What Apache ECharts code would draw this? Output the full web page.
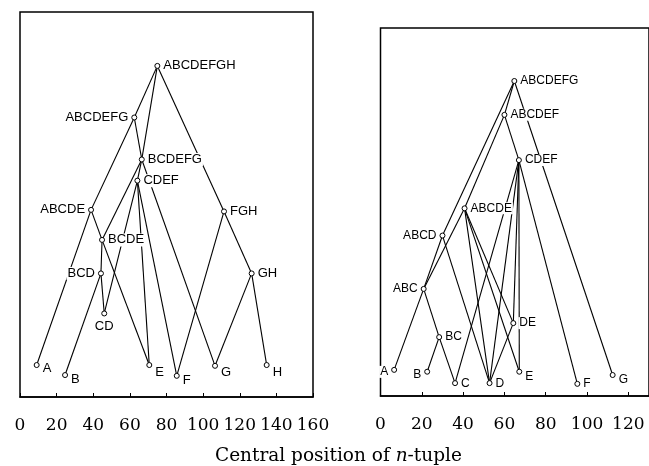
<!DOCTYPE html>
<html><head><meta charset="utf-8">
<script src="https://cdn.jsdelivr.net/npm/echarts@6/dist/echarts.min.js"></script>
<style>html,body{margin:0;padding:0;background:#fff}#c{width:649px;height:466px}</style>
</head><body><div id="c"></div>
<script>
// ---- Left panel (8 elements A..H) ----
const leftNodes  = ['ABCDEFGH','ABCDEFG','BCDEFG','CDEF','ABCDE','BCDE','BCD','CD','FGH','GH','A','B','E','F','G','H'];
const leftPos    = [75.0, 62.4, 66.5, 64.1, 38.8, 44.8, 44.2, 46.0, 111.4, 126.5, 9.1, 24.6, 70.6, 85.6, 106.5, 134.7];
const leftLevel  = [86.0, 72.6, 61.7, 56.2, 48.6, 40.8, 32.1, 21.7, 48.2, 32.1, 8.3, 5.7, 8.3, 5.5, 8.1, 8.3];
const leftLinks  = [
  ['ABCDEFGH','ABCDEFG'],['ABCDEFGH','BCDEFG'],['ABCDEFGH','FGH'],
  ['ABCDEFG','ABCDE'],['ABCDEFG','BCDEFG'],
  ['BCDEFG','CDEF'],['BCDEFG','BCDE'],['BCDEFG','G'],
  ['CDEF','CD'],['CDEF','E'],['CDEF','F'],
  ['ABCDE','A'],['ABCDE','BCDE'],['BCDE','E'],['BCDE','BCD'],
  ['BCD','B'],['BCD','CD'],
  ['FGH','F'],['FGH','GH'],['GH','G'],['GH','H']
];
const leftTicks  = [0, 20, 40, 60, 80, 100, 120, 140, 160];

// ---- Right panel (7 elements A..G) ----
const rightNodes = ['ABCDEFG','ABCDEF','CDEF','ABCDE','ABCD','ABC','BC','DE','A','B','C','D','E','F','G'];
const rightPos   = [64.8, 60.0, 67.0, 40.7, 30.0, 20.9, 28.4, 64.3, 6.6, 22.6, 36.1, 52.8, 67.2, 95.3, 112.4];
const rightLevel = [85.6, 76.4, 64.1, 51.0, 43.6, 29.1, 16.0, 19.8, 7.1, 6.6, 3.5, 3.5, 6.6, 3.3, 5.7];
const rightLinks = [
  ['ABCDEFG','ABCDEF'],['ABCDEFG','ABCD'],['ABCDEFG','G'],
  ['ABCDEF','ABCDE'],['ABCDEF','CDEF'],
  ['CDEF','F'],['CDEF','C'],['CDEF','D'],['CDEF','DE'],['CDEF','E'],
  ['ABCDE','ABC'],['ABCDE','D'],['ABCDE','DE'],['ABCDE','E'],
  ['ABCD','ABC'],['ABCD','D'],
  ['ABC','A'],['ABC','BC'],['BC','B'],['BC','C'],['DE','D']
];
const rightTicks = [0, 20, 40, 60, 80, 100, 120];
const rightAxisMax = 130;

// ---- label placement (style only) ----
const leftLabelPlace = {
  ABCDEFGH:['right',0], ABCDEFG:['left',0], BCDEFG:['right',0], CDEF:['right',0],
  ABCDE:['left',0], BCDE:['right',0], BCD:['left',0], CD:['bottom',0],
  FGH:['right',0], GH:['right',0], A:['right',3], B:['right',4], E:['right',7],
  F:['right',5], G:['right',7], H:['right',7]
};
const rightLabelPlace = {
  ABCDEFG:['right',0], ABCDEF:['right',0], CDEF:['right',0], ABCDE:['right',0],
  ABCD:['left',0], ABC:['left',0], BC:['right',0], DE:['right',0],
  A:['left',2], B:['left',3], C:['right',1], D:['right',1], E:['right',5], F:['right',0], G:['right',5]
};

function buildNodes(names, xs, ys, place, fs) {
  return names.map((n, i) => ({
    name: n,
    value: [xs[i], ys[i]],
    label: {
      position: place[n][0],
      offset: [0, place[n][1]],
      distance: place[n][0] === 'bottom' ? 3 : 2,
      fontSize: fs
    }
  }));
}
function buildLinks(links) {
  return links.map(l => ({ source: l[0], target: l[1] }));
}

const serif = 'DejaVu Serif';
function xAxisCfg(gridIndex, ticks, max, hideMax) {
  return {
    type: 'value', gridIndex: gridIndex,
    min: ticks[0], max: max, interval: ticks[1] - ticks[0],
    axisLine: { show: true, lineStyle: { color: '#000', width: 1.5 } },
    axisTick: { show: true, inside: true, length: 4, lineStyle: { color: '#000', width: 1 } },
    splitLine: { show: false },
    axisLabel: {
      show: true, margin: 20, color: '#000', fontFamily: serif, fontSize: 17,
      showMaxLabel: !hideMax,
      formatter: v => (ticks.indexOf(v) >= 0 ? String(v) : '')
    }
  };
}
function yAxisCfg(gridIndex) {
  return { type: 'value', gridIndex: gridIndex, min: 0, max: 100, show: false };
}
function graphSeries(idx, nodes, links) {
  return {
    type: 'graph', coordinateSystem: 'cartesian2d', xAxisIndex: idx, yAxisIndex: idx,
    layout: 'none', roam: false, silent: true,
    symbol: 'circle', symbolSize: 5,
    itemStyle: { color: '#fff', borderColor: '#000', borderWidth: 1 },
    lineStyle: { color: '#000', width: 1.1, opacity: 1, curveness: 0 },
    edgeSymbol: ['none', 'none'],
    label: {
      show: true, color: '#000', fontFamily: 'Liberation Sans',
      backgroundColor: '#fff', padding: [0, 1], formatter: '{b}'
    },
    emphasis: { disabled: true },
    data: nodes, links: links
  };
}

const chart = echarts.init(document.getElementById('c'), null, { renderer: 'canvas' });
chart.setOption({
  animation: false,
  backgroundColor: '#fff',
  title: {
    text: 'Central position of {i|n}-tuple',
    left: 210, top: 442,
    textStyle: {
      fontFamily: serif, fontSize: 18.5, fontWeight: 'normal', color: '#000',
      rich: { i: { fontFamily: serif, fontSize: 18.5, fontStyle: 'italic', color: '#000' } }
    }
  },
  grid: [
    { left: 20, top: 12, width: 293, height: 385, show: true, borderColor: '#000', borderWidth: 1.5, containLabel: false },
    { left: 380.5, top: 28, width: 272, height: 368, show: true, borderColor: '#000', borderWidth: 1.5, containLabel: false }
  ],
  xAxis: [
    xAxisCfg(0, leftTicks, leftTicks[leftTicks.length - 1], false),
    xAxisCfg(1, rightTicks, rightAxisMax, true)
  ],
  yAxis: [yAxisCfg(0), yAxisCfg(1)],
  series: [
    graphSeries(0, buildNodes(leftNodes, leftPos, leftLevel, leftLabelPlace, 13), buildLinks(leftLinks)),
    graphSeries(1, buildNodes(rightNodes, rightPos, rightLevel, rightLabelPlace, 12), buildLinks(rightLinks))
  ]
});
</script></body></html>
